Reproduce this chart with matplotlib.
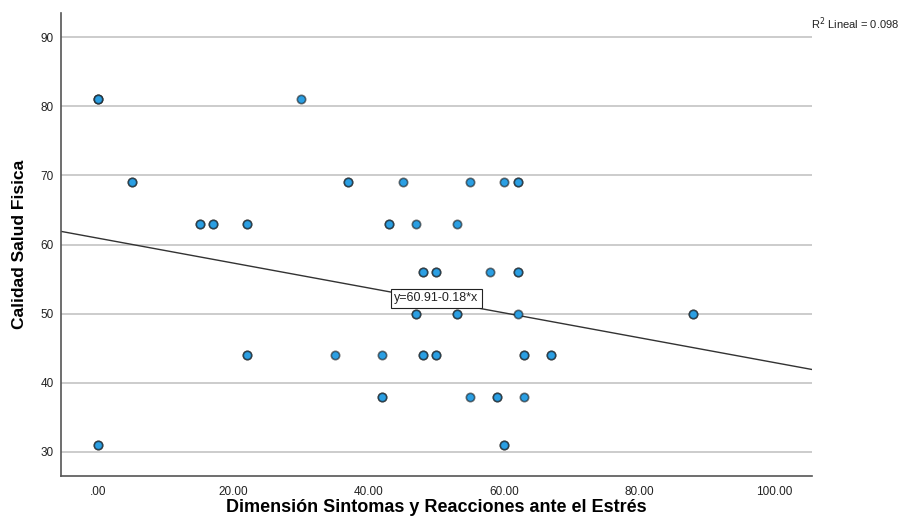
import matplotlib
matplotlib.use("Agg")
import matplotlib.pyplot as plt
import numpy as np

# Data (x, y, count of overlapping cases shown as darker markers)
x_vals = [0, 0, 5, 15, 17, 22, 22, 30,
          37, 45, 55, 60, 62,
          43, 47, 53,
          48, 50, 58, 62,
          47, 53, 62, 88,
          35, 42, 48, 50, 63, 67,
          42, 55, 59, 63,
          60]
y_vals = [81, 31, 69, 63, 63, 63, 44, 81,
          69, 69, 69, 69, 69,
          63, 63, 63,
          56, 56, 56, 56,
          50, 50, 50, 50,
          44, 44, 44, 44, 44, 44,
          38, 38, 38, 38,
          31]
counts = [3, 2, 2, 2, 2, 2, 2, 1,
          2, 1, 1, 1, 2,
          2, 1, 1,
          2, 2, 1, 2,
          2, 2, 1, 2,
          1, 1, 2, 2, 2, 2,
          2, 1, 2, 1,
          2]

# Fit line as reported in the chart
intercept = 60.91
slope = -0.18
r2_text = "0.098"

x_ticks = [0, 20, 40, 60, 80, 100]
x_tick_labels = [".00", "20.00", "40.00", "60.00", "80.00", "100.00"]
y_ticks = [30, 40, 50, 60, 70, 80, 90]

font = ["Liberation Sans", "DejaVu Sans"]
plt.rcParams["font.family"] = font

fig = plt.figure(figsize=(9.01, 5.29), dpi=100)
ax = fig.add_axes([0.0677, 0.1002, 0.8332, 0.8752])

xlim = (-5.5, 105.5)
ylim = (26.5, 93.5)
ax.set_xlim(*xlim)
ax.set_ylim(*ylim)

ax.set_yticks(y_ticks)
ax.set_xticks(x_ticks)
ax.set_xticklabels(x_tick_labels)
ax.tick_params(axis="both", length=0, labelsize=8.5, colors="#222222")
ax.tick_params(axis="y", pad=5)
ax.tick_params(axis="x", pad=7)

ax.yaxis.grid(True, color="#c8c8c8", linewidth=1.3)
ax.xaxis.grid(False)
ax.set_axisbelow(True)

for s in ["top", "right"]:
    ax.spines[s].set_visible(False)
for s in ["left", "bottom"]:
    ax.spines[s].set_color("#555555")
    ax.spines[s].set_linewidth(1.2)

# regression line
xl = np.array(xlim)
ax.plot(xl, intercept + slope * xl, color="#333333", linewidth=1.0, zorder=2)

# points, drawn once per overlapping case
for x, y, c in zip(x_vals, y_vals, counts):
    for _ in range(c):
        ax.scatter([x], [y], s=36, facecolor="#2B9FE3", edgecolor=(0.1, 0.1, 0.1, 0.6),
                   linewidth=1.2, zorder=3)

ax.text(50, 52.2, "y=60.91-0.18*x", ha="center", va="center", fontsize=9,
        color="#222222",
        bbox=dict(boxstyle="square,pad=0.25", facecolor="white", edgecolor="#222222", linewidth=0.8),
        zorder=4)

fig.text(811 / 901, 1 - 24 / 529, r"R$^2$ Lineal = " + r2_text, ha="left", va="center",
         fontsize=8, color="#222222")

ax.set_xlabel("Dimensión Sintomas y Reacciones ante el Estrés", fontsize=13,
              fontweight="bold", labelpad=1)
ax.set_ylabel("Calidad Salud Fisica", fontsize=12.5, fontweight="bold", labelpad=10)

fig.savefig("out.png", dpi=100)
